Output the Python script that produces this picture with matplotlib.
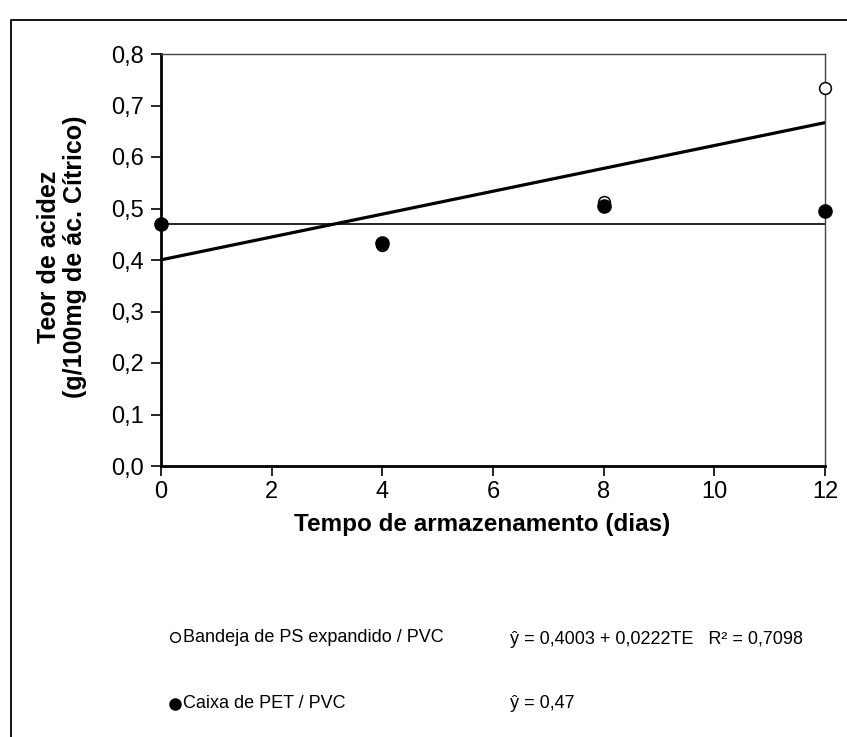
import numpy as np
import matplotlib
matplotlib.use('Agg')
from matplotlib import pyplot as plt
from matplotlib.lines import Line2D

# data
dias = [0, 4, 8, 12]
bandeja = [0.47, 0.43, 0.513, 0.734]   # Bandeja de PS expandido / PVC
caixa = [0.469, 0.433, 0.505, 0.495]   # Caixa de PET / PVC
reg_a, reg_b = 0.4003, 0.0222           # y = a + b*TE
media_caixa = 0.47
yticks = [0.0, 0.1, 0.2, 0.3, 0.4, 0.5, 0.6, 0.7, 0.8]
xticks = [0, 2, 4, 6, 8, 10, 12]

plt.rcParams['font.family'] = ['Liberation Sans', 'DejaVu Sans']

W, H = 847, 737
fig = plt.figure(figsize=(W/100, H/100), dpi=100)
ax = fig.add_axes([161/W, 1-466/H, (825-161)/W, (466-54)/H])

# fitted lines
xr = np.array([dias[0], dias[-1]])
ax.plot(xr, reg_a + reg_b*xr, color='black', lw=2.3, zorder=2)
ax.plot(xr, [media_caixa, media_caixa], color='black', lw=1.2, zorder=2)

ax.plot(dias, bandeja, 'o', mfc='white', mec='black', mew=1.1, ms=8.5,
        clip_on=False, zorder=3)
ax.plot(dias, caixa, 'o', mfc='black', mec='black', ms=9.5,
        clip_on=False, zorder=4)

ax.set_xlim(0, 12)
ax.set_ylim(0, 0.8)
ax.set_xticks(xticks)
ax.set_yticks(yticks)
ax.set_yticklabels([('%.1f' % v).replace('.', ',') for v in yticks])
ax.set_xticklabels([str(v) for v in xticks])
ax.tick_params(direction='out', length=7, width=1.2, labelsize=17, pad=5,
               color='black')
ax.tick_params(axis='x', pad=4)

for s in ['left', 'bottom']:
    ax.spines[s].set_linewidth(2.0)
for s in ['top', 'right']:
    ax.spines[s].set_linewidth(1.0)
    ax.spines[s].set_color('#444444')

fig.text(482/W, 1-524/H, 'Tempo de armazenamento (dias)', ha='center',
         va='center', fontsize=17.5, fontweight='bold')
fig.text(62/W, 1-257/H, 'Teor de acidez\n(g/100mg de ác. Cítrico)',
         ha='center', va='center', rotation=90, fontsize=18,
         fontweight='bold', multialignment='center', linespacing=1.1)

# legend block at the bottom
fig.add_artist(Line2D([175/W], [1-637/H], marker='o', ms=7, mfc='white',
                      mec='black', mew=1.0))
fig.add_artist(Line2D([175/W], [1-704/H], marker='o', ms=8, mfc='black',
                      mec='black'))
fig.text(183/W, 1-637/H, 'Bandeja de PS expandido / PVC', ha='left',
         va='center', fontsize=13)
fig.text(183/W, 1-704/H, 'Caixa de PET / PVC', ha='left', va='center',
         fontsize=13)
fig.text(510/W, 1-640/H,
         'ŷ = %s + %sTE   R² = 0,7098' % (('%.4f' % reg_a).replace('.', ','),
                                         ('%.4f' % reg_b).replace('.', ',')),
         ha='left', va='center', fontsize=13)
fig.text(510/W, 1-704/H, 'ŷ = ' + ('%.2f' % media_caixa).replace('.', ','),
         ha='left', va='center', fontsize=13)

# outer frame (cut by the image edge on right and bottom)
fig.add_artist(Line2D([11/W, 11/W, 1], [0, 1-20/H, 1-20/H], color='black',
                      lw=1.3))

fig.savefig('out.png', dpi=100)
